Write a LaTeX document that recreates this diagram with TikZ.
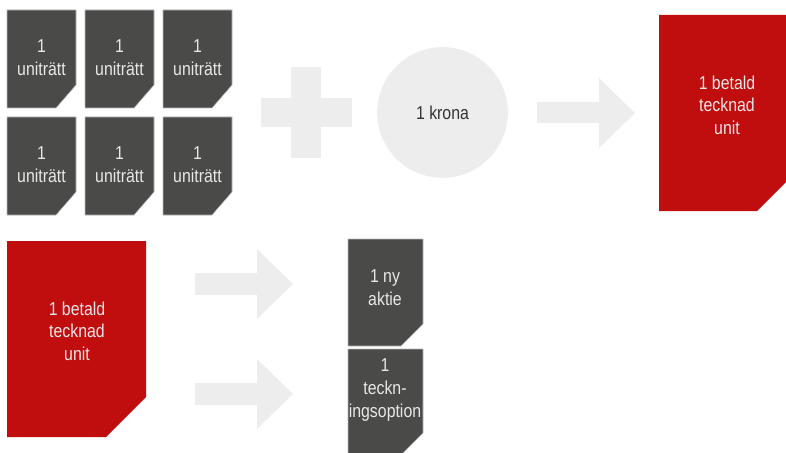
\documentclass[tikz,border=0pt]{standalone}
\usepackage{fontspec}
\setmainfont[FakeStretch=0.85]{Liberation Sans}
\usetikzlibrary{positioning}
\definecolor{tiledark}{RGB}{74,74,72}
\definecolor{unitred}{RGB}{192,13,13}
\definecolor{softgray}{RGB}{237,237,237}
\definecolor{tiletext}{RGB}{232,232,232}
\tikzset{
  cardtext/.style={align=center, text=tiletext, font=\fontsize{14}{17}\selectfont},
  darkcard/.style={fill=tiledark, draw=gray!55, line width=0.4pt},
}

\begin{document}
\begin{tikzpicture}[x=0.75pt, y=-0.75pt]
    \useasboundingbox (0,0) rectangle (786,453);
    % six uniträtt tiles
    \foreach \col/\x in {0/7,1/85,2/163}{
      \foreach \row/\y in {0/10,1/117}{
        \path[darkcard] (\x,\y) -- ++(69,0) -- ++(0,75) -- ++(-20,23) -- ++(-49,0) -- cycle;
        \node[cardtext] (unit\col\row) at (\x+34.5,\y+48) {1\\uniträtt};
      }
    }
    % plus sign
    \fill[softgray] (261,98) rectangle (352,127);
    \fill[softgray] (291,67) rectangle (321,158);
    % krona
    \node[circle, fill=softgray, minimum size=98pt, inner sep=0pt, text=black!80,
          font=\fontsize{14}{17}\selectfont] (krona) at (442.5,112.5) {1 krona};
    % arrow to paid unit
    \fill[softgray] (537,102) -- (599,102) -- (599,78) -- (635,113) -- (599,148) -- (599,123) -- (537,123) -- cycle;
    \fill[unitred] (659,15) -- (786,15) -- (786,182) -- (757,211) -- (659,211) -- cycle;
    \node[cardtext] (paidtop) at (727,105) {1 betald\\tecknad\\unit};
    % paid unit splits in two
    \fill[unitred] (7,241) -- (146,241) -- (146,397) -- (106,437) -- (7,437) -- cycle;
    \node[cardtext] (paidlow) at (77,331) {1 betald\\tecknad\\unit};
    \fill[softgray] (195,273) -- (257,273) -- (257,249) -- (293,284) -- (257,319) -- (257,295) -- (195,295) -- cycle;
    \fill[softgray] (195,383) -- (257,383) -- (257,359) -- (293,394) -- (257,429) -- (257,405) -- (195,405) -- cycle;
    \path[darkcard] (348,239) -- (423,239) -- (423,324) -- (401,346) -- (348,346) -- cycle;
    \node[cardtext] (aktie) at (385,288) {1 ny\\aktie};
    \path[darkcard] (348,349) -- (423,349) -- (423,433) -- (402,454) -- (348,454) -- cycle;
    \node[cardtext] (option) at (385,390) {1\\teckn-\\ingsoption};
\end{tikzpicture}
\end{document}
